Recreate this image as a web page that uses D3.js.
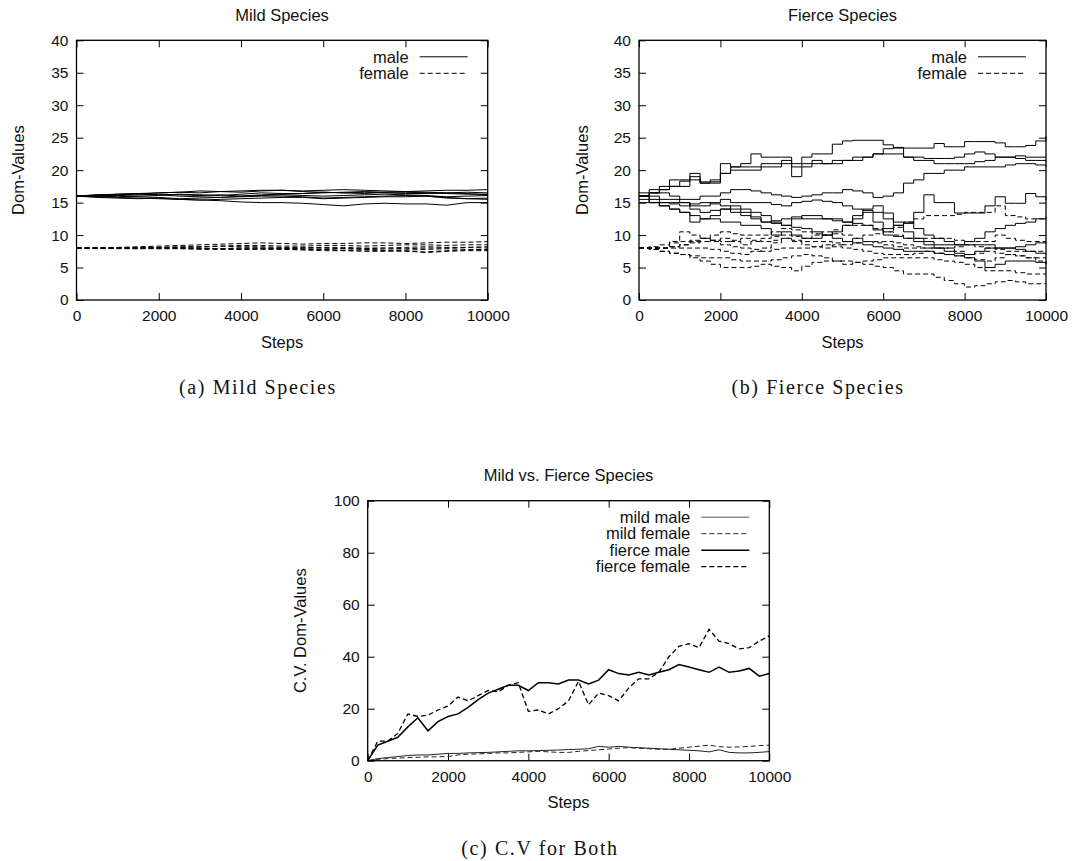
<!DOCTYPE html>
<html>
<head>
<meta charset="utf-8">
<script src="https://cdn.jsdelivr.net/npm/d3@7"></script>
<style>
  body { margin: 0; background: #fff; }
  svg { display: block; }
  .tick line { stroke: #000; }
  .tick text { font-family: "Liberation Sans", Arial, sans-serif; font-size: 15.5px; fill: #111; }
</style>
</head>
<body>
<div id="chart"></div>
<script>

// ---------------------------//
//            DATA            //
// ---------------------------//

var steps500 = [0,500,1000,1500,2000,2500,3000,3500,4000,4500,5000,5500,6000,6500,7000,7500,8000,8500,9000,9500,10000];
var steps250 = [0,250,500,750,1000,1250,1500,1750,2000,2250,2500,2750,3000,3250,3500,3750,4000,4250,4500,4750,5000,
                5250,5500,5750,6000,6250,6500,6750,7000,7250,7500,7750,8000,8250,8500,8750,9000,9250,9500,9750,10000];

// (a) mild species, dom-values per individual
var mildMale1 = [16,16.2,16.3,16.4,16.5,16.6,16.5,16.7,16.8,16.9,16.9,16.8,16.9,17,16.9,16.8,16.7,16.8,16.9,16.9,17];
var mildMale2 = [16,16.1,16.2,16.3,16.5,16.6,16.8,16.7,16.6,16.8,16.9,16.7,16.6,16.5,16.6,16.5,16.4,16.4,16.5,16.6,16.5];
var mildMale3 = [16,16,15.9,16,16.1,16.3,16.2,16.1,16.3,16.5,16.4,16.4,16.5,16.6,16.7,16.6,16.6,16.5,16.4,16.3,16.3];
var mildMale4 = [16,15.9,15.8,15.7,15.6,15.5,15.4,15.3,15.1,15,15,14.9,14.7,14.5,14.8,14.9,14.8,14.8,14.6,15,15];
var mildMale5 = [16,16,16.1,16.2,16.3,16.2,16.1,16.2,16,16.1,16.2,16.1,16,16.1,16.2,16.3,16.2,16.1,15.9,16,16.1];
var mildMale6 = [16,15.8,15.7,15.6,15.7,15.5,15.4,15.5,15.6,15.7,15.8,15.8,15.6,15.7,15.8,15.9,15.9,16,15.8,15.6,15.5];
var mildMale7 = [16,16.2,16.1,15.9,15.8,15.6,15.7,15.8,16,16.2,16.3,16.4,16.6,16.5,16.4,16.6,16.7,16.6,16.5,16.4,16.2];
var mildMale8 = [16,16.1,16.3,16.4,16.2,16,15.9,15.8,15.9,16,16,15.9,15.7,15.8,15.9,16,16.1,16,15.7,15.6,15.7];

var mildFemale1 = [8,8,8.1,8.2,8.3,8.4,8.5,8.6,8.7,8.8,8.7,8.6,8.7,8.7,8.8,8.8,8.7,8.8,8.9,8.9,9];
var mildFemale2 = [8,8,8,8.1,8.1,8.2,8.2,8.3,8.4,8.4,8.3,8.3,8.4,8.4,8.3,8.4,8.5,8.5,8.4,8.5,8.5];
var mildFemale3 = [8,8,8,7.9,8,8,8,7.9,8,8,7.9,8,8.1,8.1,8,8,8.1,8.2,8.1,8.1,8.2];
var mildFemale4 = [8,8,7.9,7.9,7.9,8,8,7.9,7.8,7.8,7.8,7.7,7.6,7.6,7.7,7.6,7.5,7.4,7.6,7.7,7.8];
var mildFemale5 = [8,8,8,8,8.1,8,7.9,7.9,8,8,8,7.9,7.8,7.6,7.5,7.5,7.6,7.3,7.5,7.6,7.6];
var mildFemale6 = [8,8,8,8,7.9,7.9,7.8,7.8,7.8,7.9,7.9,7.8,7.8,7.9,7.8,7.7,7.7,7.8,7.9,7.8,7.7];
var mildFemale7 = [8,8,8,8.1,8.1,8.1,8.2,8.3,8.2,8.2,8.1,8.1,8,7.9,7.9,8,7.9,8,8,8.1,8];

// (b) fierce species, read every 250 steps
var fierceMale1 = [16,16.5,17,17.5,18.3,19.5,18.2,18.2,21,20.5,21,22.5,22,22,22,19,22,22.5,22.5,24,24.5,
                   24.6,24.6,24.6,23.9,23.4,23.4,23.4,23.4,24.1,23.6,23.6,24.4,24.4,24.4,24.2,23.6,23.6,23.8,24.5,25.2];
var fierceMale2 = [16,16.5,17,17.5,17.5,18.5,18,18.5,19.5,20.5,20.5,20.5,21,21,21.5,21,21,21.5,21,21.5,21.5,
                   22,22,22.5,23.3,23.5,22,22,21.8,21.8,21.8,22,22.5,22.8,22.5,22,22,22.2,22,22,22];
var fierceMale3 = [16.5,17,17.5,18.5,18.5,19,18,18,19.5,20,20,20,20.5,20.5,21,20.5,20.5,21,21,21,21.5,
                   21.5,22,22.5,22.5,22.5,22,21.5,21.5,21,21,21,21,21.3,21.5,22,22,21.8,21.5,21.5,21.3];
var fierceMale4 = [16,16,15.5,15.5,15.5,15.5,16,16,16.5,17,17,16.8,16.5,16.2,16,15.8,16,16.2,16.5,16.5,17,
                   16.8,16.5,15.8,16,16.5,18,18.5,19.5,19.5,20,20,20.5,20.5,20.5,20.5,20.8,21,21,20.8,20.5];
var fierceMale5 = [15.5,15.5,15,15,15,14.5,14.5,15,15.5,15,15,15,15,14.7,14.5,15,15.2,15.4,15.2,15,14.5,
                   14,13.8,13.5,13.4,12,11.8,13.5,16.2,15,15,13.4,13.4,13.4,14.5,15.9,14.9,14.9,16.4,15.9,15.4];
var fierceMale6 = [16,15,14.5,14,13.5,12,12.5,13,14,14.5,14,13.5,13,12,11.5,12.5,13,13,12.5,12.5,12,
                   13,13.5,12,11,11.5,12,11,10,9.5,9,8.5,9,9.5,10.5,11,11.5,11.8,12,12.5,12.8];
var fierceMale7 = [16,15,14.5,14,13.5,13,12.5,12.5,12,12,11.5,11.5,11,10,10.5,10,9.5,9.5,10,10.5,11.5,
                   12.5,14,14.5,12.5,11.5,10.5,9.5,9,8.5,8.5,8.5,8.5,8.5,8.5,8,8,7.8,7.5,7.2,7];
var fierceMale8 = [15,15,15,14.8,14.5,14.8,15,14.8,14.5,14,13.5,12.8,12,12.2,12.5,12.8,12.5,12.5,12.5,12.2,12,
                   11.8,11.5,10.8,10,9.8,9.5,9,8.5,8,7.5,7.2,7,7.5,8,8,8,8.2,8.5,8.8,9];
var fierceMale9 = [16,16.5,16.5,16,15,14,13.5,13.8,14,13.5,13,12.5,12,11.8,11.5,11.2,11,10.5,10,9.5,9,
                   8.8,8.5,8.2,8,7.8,7.5,7.5,7.5,7.2,7,6.8,6.5,6,5,5.5,6,6,6,5.8,5.5];

var fierceFemale1 = [8,8,8,9,10.5,10,9.5,9.2,9,9.2,9.5,9.2,9,9.2,9.5,9,8.5,8.2,8,8.5,9,
                     9.5,10,10.2,10.5,10,9.5,9.5,9.5,9.5,9.5,9.2,9,9,9,10,9.5,9.2,9,9,9];
var fierceFemale2 = [8,8,8,8.2,8.5,9,9.5,10,10.5,10.2,10,10,10,10.5,11,10.8,10.5,10.2,10,10.8,11.5,
                     11.5,11.5,11,10.5,11.2,12,12.5,13,13,13,13.2,13.5,13.5,13.5,14.5,13,12.8,12.5,12.5,12.5];
var fierceFemale3 = [8,7.8,7.5,7.2,7,6.5,6,5.5,5,5,5,5.2,5.5,5.2,5,4.5,5.2,5.8,6,6,6,
                     5.8,5.5,5.2,5,4.5,4,4,4,3.5,3,2.5,2,2.2,2.5,2.8,3,2.8,2.5,2.5,2.5];
var fierceFemale4 = [8,7.8,7.5,7.2,7,6.8,6.5,6.5,6.5,6.2,6,6,6,6.2,6.5,6.8,7,6.8,6.5,6,5.5,
                     5.8,6,6.2,6.5,6.5,6.5,6.5,6.5,6.2,6,5.8,5.5,5,4.5,4.5,4.5,4.2,4,4,4];
var fierceFemale5 = [8,8.2,8.5,8.8,9,9.2,9.5,9,8.5,8.2,8,7.8,7.5,7.8,8,8,8,8.2,8.5,8.2,8,
                     7.8,7.5,7.2,7,7,7,7.2,7.5,7.2,7,6.8,6.5,6.2,6,6.5,7,6.8,6.5,6,5.5];
var fierceFemale6 = [8,8,8,8,8,8,8,7.8,7.5,7.2,7,7.5,8,8.8,9.5,9.2,9,9,9,8.8,8.5,
                     8.8,9,8.8,8.5,8.2,8,8,8,8,8,8.2,8.5,8.2,8,7.8,7.5,7.5,7.5,7.5,7.5];
var fierceFemale7 = [8,8,8,8.2,8.5,8.8,9,9.2,9.5,9,8.5,9,9.5,9.8,10,9.8,9.5,10,10.5,10.2,10,
                     9.5,9,9,9,8.8,8.5,8.2,8,8,8,7.5,7,7.2,7.5,7.2,7,6.8,6.5,6.5,6.5];

// (c) coefficient of variation
var cvMildMale = [0,0.8,1.2,1.6,2,2.2,2.2,2.5,2.8,2.8,3,3.1,3.2,3.4,3.6,3.8,3.8,3.9,4,4.1,4.3,
                  4.4,4.6,5.5,5.2,5.5,5.2,5,4.8,4.6,4.4,4.2,4,3.8,3.4,4.2,3.2,3,3,3.2,3.5];
var cvMildFemale = [0,0.5,0.8,1,1.2,1.3,1.5,1.5,1.6,2.2,2.5,2.6,2.8,3,3,3.2,3.4,3.6,3.4,3.2,3.2,
                    3.6,3.9,4.2,4.5,4.8,5,4.8,4.6,4.4,4.4,4.8,5.2,5.6,6,5.4,5.2,5.3,5.5,5.8,6];
var cvFierceMale = [0,6,7.5,9,13,16.5,11.5,15,17,18,20.5,23.5,26,27.5,29,29,27,30,30,29.5,31,
                    31,29.5,31,35,33.5,33,34,33,34,35,37,36,35,34,36,34,34.5,35.5,32.5,33.5];
var cvFierceFemale = [0,7.5,7.5,10.5,18,17,17.5,19.5,21,24.5,23,25,27,26.5,29,30,19,19.5,18,20,23,
                      30.5,21.5,26,25,23,28,31.5,31.5,34,40,44,45,43.5,50.5,46,45,43,43.5,46,48];

var xTicks = [0,2000,4000,6000,8000,10000];
var domTicks = [0,5,10,15,20,25,30,35,40];
var cvTicks = [0,20,40,60,80,100];

// ---------------------------//
//          CONTAINER         //
// ---------------------------//

var width = 1088;
var height = 861;

var svg = d3.select("#chart")
  .append("svg")
  .attr("width", width)
  .attr("height", height)
  .attr("viewBox", [0, 0, width, height]);

svg.append("rect").attr("width", width).attr("height", height).attr("fill", "#fff");

var sans = '"Liberation Sans", Arial, sans-serif';
var serif = '"Liberation Serif", "Times New Roman", serif';

function zip(xs, ys) {
  return xs.map(function(x, i) { return { x: x, y: ys[i] }; });
}

// ---------------------------//
//        PANEL DRAWING       //
// ---------------------------//

function drawPanel(p) {
  var g = svg.append("g");

  var x = d3.scaleLinear().domain([0, 10000]).range([p.left, p.right]);
  var y = d3.scaleLinear().domain(p.yDomain).range([p.bottom, p.top]);

  // axes with inward ticks on all sides (gnuplot style)
  g.append("g")
    .attr("transform", "translate(0," + p.bottom + ")")
    .call(d3.axisBottom(x).tickValues(xTicks).tickFormat(d3.format("d"))
      .tickSizeInner(-7).tickSizeOuter(0).tickPadding(10))
    .call(function(a) { a.select(".domain").remove(); });

  g.append("g")
    .attr("transform", "translate(0," + p.top + ")")
    .call(d3.axisTop(x).tickValues(xTicks).tickSizeInner(-7).tickSizeOuter(0).tickFormat(""))
    .call(function(a) { a.select(".domain").remove(); });

  g.append("g")
    .attr("transform", "translate(" + p.left + ",0)")
    .call(d3.axisLeft(y).tickValues(p.yTicks).tickSizeInner(-7).tickSizeOuter(0).tickPadding(8))
    .call(function(a) { a.select(".domain").remove(); });

  g.append("g")
    .attr("transform", "translate(" + p.right + ",0)")
    .call(d3.axisRight(y).tickValues(p.yTicks).tickSizeInner(-7).tickSizeOuter(0).tickFormat(""))
    .call(function(a) { a.select(".domain").remove(); });

  // series
  p.series.forEach(function(s) {
    var line = d3.line()
      .x(function(d) { return x(d.x); })
      .y(function(d) { return y(d.y); })
      .curve(s.curve || d3.curveLinear);

    g.append("path")
      .datum(zip(s.xs, s.ys))
      .attr("fill", "none")
      .attr("stroke", s.color || "#000")
      .attr("stroke-width", s.width || 1)
      .attr("stroke-dasharray", s.dash ? "5,3" : null)
      .attr("d", line);
  });

  // frame
  g.append("rect")
    .attr("x", p.left)
    .attr("y", p.top)
    .attr("width", p.right - p.left)
    .attr("height", p.bottom - p.top)
    .attr("fill", "none")
    .attr("stroke", "#000")
    .attr("stroke-width", 1.3);

  // legend
  p.legend.forEach(function(l, i) {
    var ly = p.top + 16.5 + i * 16.5;
    g.append("text")
      .attr("x", p.right - 79)
      .attr("y", ly)
      .attr("dy", "0.35em")
      .attr("text-anchor", "end")
      .style("font-family", sans)
      .style("font-size", "16.5px")
      .attr("fill", "#111")
      .text(l.label);
    g.append("line")
      .attr("x1", p.right - 68)
      .attr("x2", p.right - 20)
      .attr("y1", ly)
      .attr("y2", ly)
      .attr("stroke", l.color || "#000")
      .attr("stroke-width", l.width || 1)
      .attr("stroke-dasharray", l.dash ? "5,3" : null);
  });

  // titles
  g.append("text")
    .attr("x", (p.left + p.right) / 2)
    .attr("y", p.top - 25)
    .attr("dy", "0.35em")
    .attr("text-anchor", "middle")
    .style("font-family", sans)
    .style("font-size", "16.5px")
    .attr("fill", "#111")
    .text(p.title);

  g.append("text")
    .attr("x", (p.left + p.right) / 2)
    .attr("y", p.bottom + 42)
    .attr("dy", "0.35em")
    .attr("text-anchor", "middle")
    .style("font-family", sans)
    .style("font-size", "16.5px")
    .attr("fill", "#111")
    .text("Steps");

  g.append("text")
    .attr("transform", "translate(" + p.yLabelX + "," + ((p.top + p.bottom) / 2) + ") rotate(-90)")
    .attr("dy", "0.35em")
    .attr("text-anchor", "middle")
    .style("font-family", sans)
    .style("font-size", "16.5px")
    .attr("fill", "#111")
    .text(p.yLabel);

  g.append("text")
    .attr("x", p.captionX)
    .attr("y", p.bottom + 87)
    .attr("dy", "0.35em")
    .attr("text-anchor", "middle")
    .style("font-family", serif)
    .style("font-size", "20px")
    .style("letter-spacing", "1.6px")
    .attr("fill", "#111")
    .text(p.caption);
}

var mildMales = [mildMale1, mildMale2, mildMale3, mildMale4, mildMale5, mildMale6, mildMale7, mildMale8];
var mildFemales = [mildFemale1, mildFemale2, mildFemale3, mildFemale4, mildFemale5, mildFemale6, mildFemale7];
var fierceMales = [fierceMale1, fierceMale2, fierceMale3, fierceMale4, fierceMale5, fierceMale6, fierceMale7, fierceMale8, fierceMale9];
var fierceFemales = [fierceFemale1, fierceFemale2, fierceFemale3, fierceFemale4, fierceFemale5, fierceFemale6, fierceFemale7];

drawPanel({
  left: 76.5, right: 487.7, top: 40.3, bottom: 300,
  yDomain: [0, 40], yTicks: domTicks,
  title: "Mild Species", yLabel: "Dom-Values", yLabelX: 18,
  caption: "(a) Mild Species", captionX: 258,
  legend: [{ label: "male" }, { label: "female", dash: true }],
  series: mildMales.map(function(v) { return { xs: steps500, ys: v }; })
    .concat(mildFemales.map(function(v) { return { xs: steps500, ys: v, dash: true }; }))
});

drawPanel({
  left: 639, right: 1046, top: 40.3, bottom: 300,
  yDomain: [0, 40], yTicks: domTicks,
  title: "Fierce Species", yLabel: "Dom-Values", yLabelX: 582,
  caption: "(b) Fierce Species", captionX: 818,
  legend: [{ label: "male" }, { label: "female", dash: true }],
  series: fierceMales.map(function(v) { return { xs: steps250, ys: v, curve: d3.curveStepAfter }; })
    .concat(fierceFemales.map(function(v) { return { xs: steps250, ys: v, dash: true, curve: d3.curveStepAfter }; }))
});

drawPanel({
  left: 367.7, right: 769.3, top: 500.7, bottom: 760.7,
  yDomain: [0, 100], yTicks: cvTicks,
  title: "Mild vs. Fierce Species", yLabel: "C.V. Dom-Values", yLabelX: 300,
  caption: "(c) C.V for Both", captionX: 540,
  legend: [
    { label: "mild male", color: "#555" },
    { label: "mild female", dash: true, color: "#333" },
    { label: "fierce male", width: 1.5 },
    { label: "fierce female", dash: true, width: 1.3 }
  ],
  series: [
    { xs: steps250, ys: cvMildMale, color: "#222" },
    { xs: steps250, ys: cvMildFemale, dash: true, color: "#222" },
    { xs: steps250, ys: cvFierceMale, width: 1.5 },
    { xs: steps250, ys: cvFierceFemale, dash: true, width: 1.3 }
  ]
});

</script>
</body>
</html>
